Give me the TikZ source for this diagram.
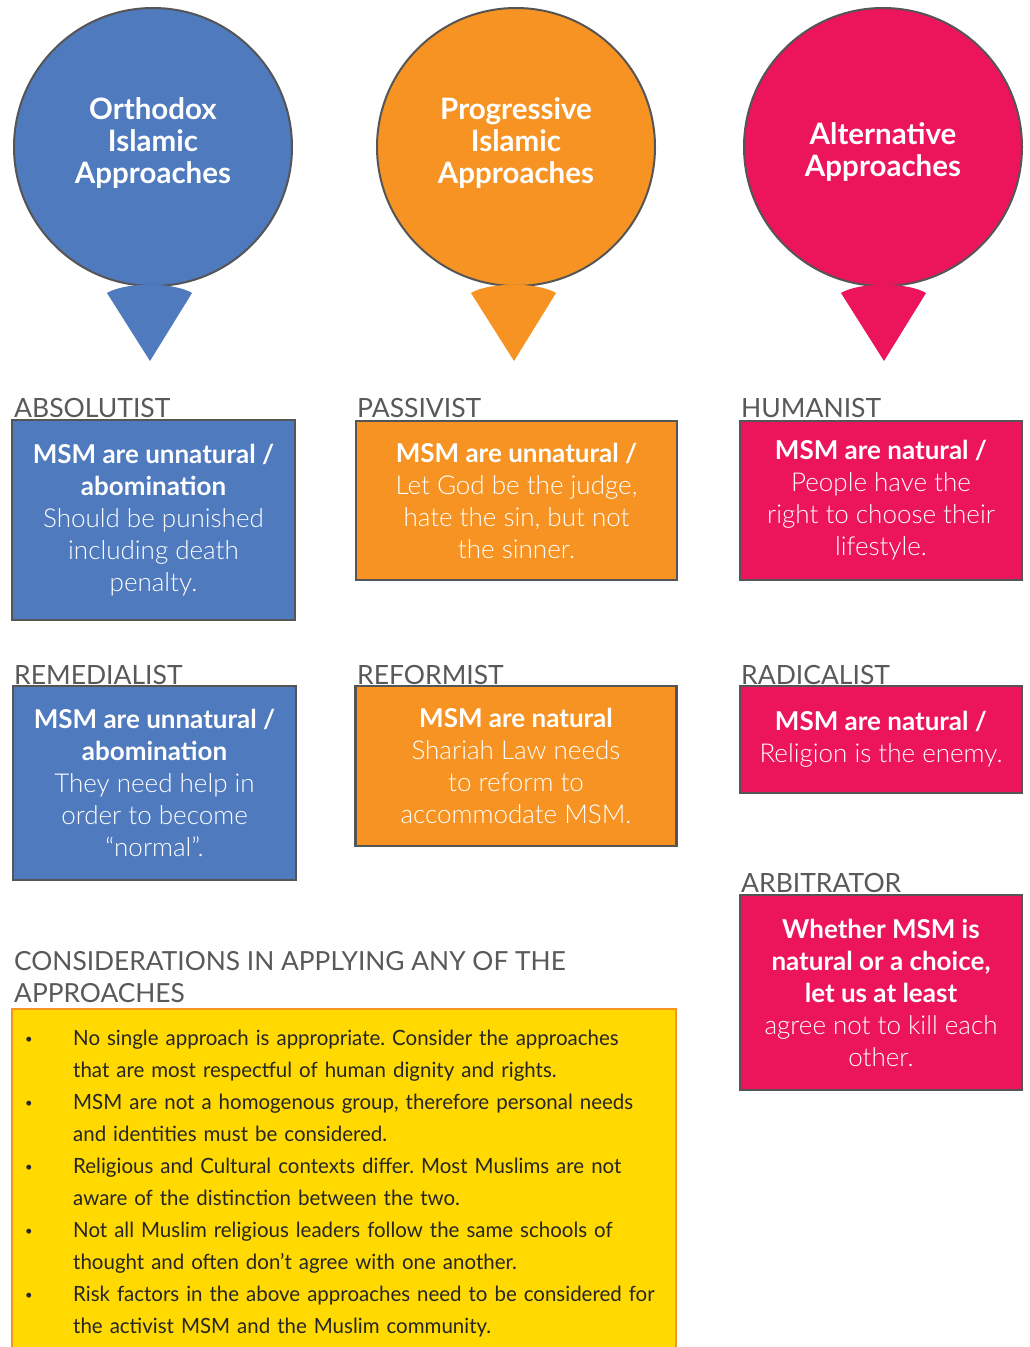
\documentclass[tikz,border=0pt]{standalone}
\usepackage{fontspec}
\setmainfont{Lato}
\newfontfamily\lightfont{Lato Light}
\newfontfamily\condfont{Lato}[FakeStretch=0.975]
\newcommand\lite[1]{{\lightfont #1}}
\frenchspacing
\definecolor{cblue}{HTML}{4F7ABE}
\definecolor{corange}{HTML}{F69322}
\definecolor{cpink}{HTML}{EC145A}
\definecolor{cyellow}{HTML}{FFD900}
\definecolor{cgray}{HTML}{595959}
\definecolor{cborder}{HTML}{555555}
\definecolor{ctext}{HTML}{262626}
\begin{document}
\begin{tikzpicture}[x=1pt,y=-1pt,
  bubble/.style={circle, draw=cborder, line width=2pt, minimum size=278pt, inner sep=0pt},
  bubtext/.style={text=white, font=\bfseries\fontsize{29.5}{32}\selectfont, align=center, inner sep=0pt},
  card/.style={draw=cborder, line width=2.5pt, inner sep=0pt, align=center, text=white, font=\fontsize{26}{32}\selectfont},
  lab/.style={anchor=base west, text=cgray, inner sep=0pt, font=\fontsize{26.5}{30}\selectfont},
  item/.style={anchor=base west, text=ctext, inner sep=0pt, align=left, text width=600pt, font=\condfont\fontsize{21}{32}\selectfont},
  bul/.style={anchor=center, text=ctext, inner sep=0pt, font=\fontsize{13}{16}\selectfont}
]
\useasboundingbox (0,0) rectangle (1029,1347);
\fill[white] (0,0) rectangle (1029,1347);

% bubbles
\node[bubble, fill=cblue] (orth) at (153,147) {};
\fill[cblue] (107,293) .. controls (125,282) and (174,282) .. (192,293) -- (150,361) -- cycle;
\node[bubtext] (orthT) at (153,143) {Orthodox\\Islamic\\Approaches};

\node[bubble, fill=corange] (prog) at (516,147) {};
\fill[corange] (471,293) .. controls (489,282) and (538,282) .. (556,293) -- (514,361) -- cycle;
\node[bubtext] (progT) at (516,143) {Progressive\\Islamic\\Approaches};

\node[bubble, fill=cpink] (alt) at (883,147) {};
\fill[cpink] (841,293) .. controls (859,282) and (908,282) .. (926,293) -- (884,361) -- cycle;
\node[bubtext] (altT) at (883,152) {Alternative\\Approaches};

% labels
\node[lab] (l1) at (14,417) {ABSOLUTIST};
\node[lab] (l2) at (357,417) {PASSIVIST};
\node[lab] (l3) at (741,417) {HUMANIST};
\node[lab] (l4) at (14,684) {REMEDIALIST};
\node[lab] (l5) at (357,684) {REFORMIST};
\node[lab] (l6) at (741,684) {RADICALIST};
\node[lab] (l7) at (741,892) {ARBITRATOR};

% cards
\node[card, fill=cblue, minimum width=283pt, minimum height=200pt] (abs) at (153.5,520)
  {\textbf{MSM are unnatural /}\\\textbf{abomination}\\\lite{Should be punished}\\\lite{including death}\\\lite{penalty.}};
\node[card, fill=corange, minimum width=321pt, minimum height=159pt] (pas) at (516.5,500.5)
  {\textbf{MSM are unnatural /}\\\lite{Let God be the judge,}\\\lite{hate the sin, but not}\\\lite{the sinner.}};
\node[card, fill=cpink, minimum width=282pt, minimum height=159pt] (hum) at (881,500.5)
  {\textbf{MSM are natural /}\\\lite{People have the}\\\lite{right to choose their}\\\lite{lifestyle.}};
\node[card, fill=cblue, minimum width=283pt, minimum height=194pt] (rem) at (154.5,783)
  {\textbf{MSM are unnatural /}\\\textbf{abomination}\\\lite{They need help in}\\\lite{order to become}\\\lite{“normal”.}};
\node[card, fill=corange, minimum width=321pt, minimum height=160pt] (ref) at (516,766)
  {\textbf{MSM are natural}\\\lite{Shariah Law needs}\\\lite{to reform to}\\\lite{accommodate MSM.}};
\node[card, fill=cpink, minimum width=282pt, minimum height=107pt] (rad) at (881,739.5)
  {\textbf{MSM are natural /}\\\lite{Religion is the enemy.}};
\node[card, fill=cpink, minimum width=282pt, minimum height=195pt] (arb) at (881,992.5)
  {\textbf{Whether MSM is}\\\textbf{natural or a choice,}\\\textbf{let us at least}\\\lite{agree not to kill each}\\\lite{other.}};

% considerations
\node[anchor=north west, align=left, text=cgray, inner sep=0pt, font=\fontsize{26.3}{32}\selectfont] (cons) at (14,951)
  {CONSIDERATIONS IN APPLYING ANY OF THE\\APPROACHES};
\fill[cyellow] (12,1009) rectangle (676,1347);
\draw[corange, line width=2pt] (12,1350) -- (12,1009) -- (676,1009) -- (676,1350);

\node[bul] (b1) at (29,1040) {\textbullet};
\node[item] (i1) at (73,1045) {No single approach is appropriate. Consider the approaches\\that are most respectful of human dignity and rights.};
\node[bul] (b2) at (29,1104) {\textbullet};
\node[item] (i2) at (73,1109) {MSM are not a homogenous group, therefore personal needs\\and identities must be considered.};
\node[bul] (b3) at (29,1168) {\textbullet};
\node[item] (i3) at (73,1173) {Religious and Cultural contexts differ. Most Muslims are not\\aware of the distinction between the two.};
\node[bul] (b4) at (29,1232) {\textbullet};
\node[item] (i4) at (73,1237) {Not all Muslim religious leaders follow the same schools of\\thought and often don’t agree with one another.};
\node[bul] (b5) at (29,1296) {\textbullet};
\node[item] (i5) at (73,1301) {Risk factors in the above approaches need to be considered for\\the activist MSM and the Muslim community.};
\end{tikzpicture}
\end{document}
